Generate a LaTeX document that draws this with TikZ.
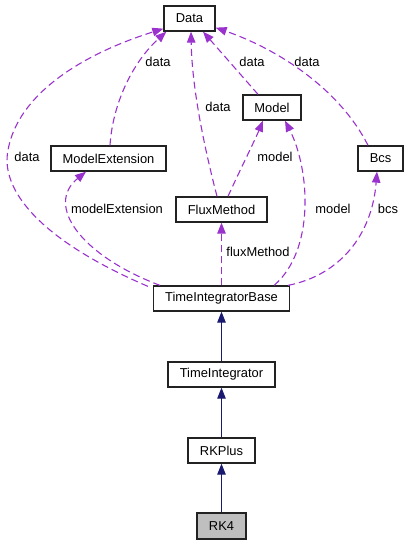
\documentclass[tikz,border=0pt]{standalone}
\usepackage{fontspec}
\setmainfont{Liberation Sans}
\usetikzlibrary{arrows.meta}
\definecolor{edgepurple}{HTML}{9A32CD}
\definecolor{edgenavy}{HTML}{191970}
\definecolor{curgray}{HTML}{BFBFBF}
\definecolor{boxline}{HTML}{222222}
\begin{document}
\begin{tikzpicture}[x=1pt,y=-1pt,
  cls/.style={draw=boxline, line width=1.3pt, fill=white, inner sep=0pt, minimum height=25pt, font=\fontsize{12.9}{14}\selectfont},
  lbl/.style={inner sep=0pt, font=\fontsize{12.9}{14}\selectfont},
  dep/.style={draw=edgepurple, line width=1.1pt, dash pattern=on 7pt off 4pt, -{Triangle[length=11pt,width=8.5pt]}},
  inh/.style={draw=edgenavy, line width=1.1pt, -{Triangle[length=11pt,width=8.5pt]}}]
\useasboundingbox (0,0) rectangle (408,545);
% classes
\node[cls, minimum width=51pt] (data) at (189.5,18.5) {Data};
\node[cls, minimum width=58pt] (model) at (272,107.5) {Model};
\node[cls, minimum width=115pt] (mext) at (108.5,158.5) {ModelExtension};
\node[cls, minimum width=45pt] (bcs) at (380.5,158.5) {Bcs};
\node[cls, minimum width=91pt] (flux) at (221.5,209.5) {FluxMethod};
\node[cls, minimum width=136pt] (tib) at (221.5,298.5) {TimeIntegratorBase};
\node[cls, minimum width=107pt] (ti) at (221.5,374.5) {TimeIntegrator};
\node[cls, minimum width=67pt] (rkp) at (221.5,450.5) {RKPlus};
\node[cls, minimum width=49pt, minimum height=26pt, fill=curgray] (rk4) at (221.5,526) {RK4};
% inheritance
\draw[inh] (rk4.north) -- (rkp.south);
\draw[inh] (rkp.north) -- (ti.south);
\draw[inh] (ti.north) -- (tib.south);
% usage
\draw[dep] ([xshift=-5pt,yshift=-1pt]tib.north west) .. controls (40,240) and (0,190) .. (8,150)
  .. controls (18,95) and (80,55) .. ([yshift=3pt]data.south west);
\draw[dep] ([xshift=1.5pt]mext.north) .. controls (113,100) and (135,60) .. ([xshift=3pt]data.south west);
\draw[dep] ([xshift=-4.5pt]flux.north) .. controls (205,150) and (192,90) .. ([xshift=1.5pt]data.south);
\draw[dep] ([xshift=-14pt]model.north) -- ([xshift=13.5pt]data.south);
\draw[dep] ([xshift=-12.5pt]bcs.north) .. controls (340,90) and (280,50) .. ([yshift=4pt]data.south east);
\draw[dep] ([xshift=6.5pt]flux.north) .. controls (240,170) and (255,140) .. ([xshift=-9pt]model.south);
\draw[dep] ([xshift=-16pt]tib.north east) .. controls (315,250) and (310,170) .. ([xshift=13pt]model.south);
\draw[dep] ([xshift=-2pt]tib.north east) .. controls (340,275) and (372,235) .. ([xshift=-3.5pt]bcs.south);
\draw[dep] ([xshift=7pt]tib.north west) .. controls (80,255) and (45,205) .. ([xshift=-22.5pt]mext.south);
\draw[dep] (tib.north) -- (flux.south);
% labels
\node[lbl] (l1) at (27,157) {data};
\node[lbl] (l2) at (158,62) {data};
\node[lbl] (l3) at (218,107) {data};
\node[lbl] (l4) at (252,62) {data};
\node[lbl] (l5) at (307,62) {data};
\node[lbl] (l6) at (275,157) {model};
\node[lbl] (l7) at (117,209) {modelExtension};
\node[lbl] (l8) at (333,209) {model};
\node[lbl] (l9) at (388,209) {bcs};
\node[lbl] (l10) at (258,252) {fluxMethod};
\end{tikzpicture}
\end{document}
